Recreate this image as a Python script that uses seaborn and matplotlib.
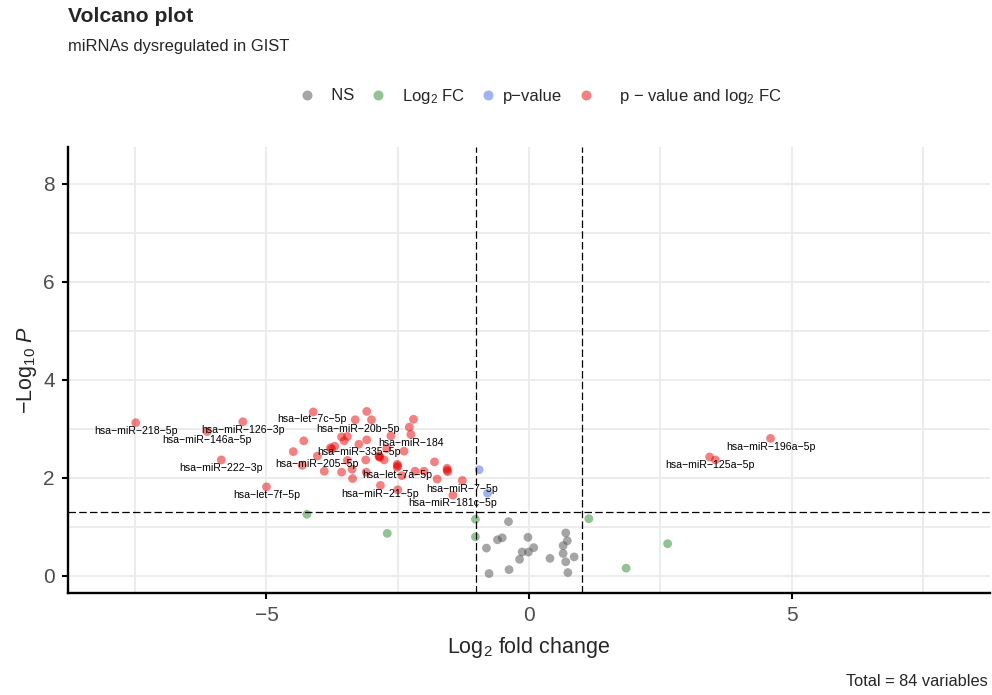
import numpy as np
import pandas as pd
import matplotlib
matplotlib.use("Agg")
import matplotlib.pyplot as plt
from matplotlib.lines import Line2D
import seaborn as sns

# Labelled miRNAs (log2 fold change, -log10 p)
mirna_labels = [
    "hsa-miR-218-5p", "hsa-miR-126-3p", "hsa-miR-146a-5p", "hsa-miR-222-3p",
    "hsa-let-7f-5p", "hsa-let-7c-5p", "hsa-miR-20b-5p", "hsa-miR-184",
    "hsa-miR-335-5p", "hsa-miR-205-5p", "hsa-let-7a-5p", "hsa-miR-21-5p",
    "hsa-miR-7-5p", "hsa-miR-181c-5p", "hsa-miR-196a-5p", "hsa-miR-125a-5p",
]
labelled_fc = [-7.49, -5.45, -6.13, -5.86, -5.00, -4.11, -3.31, -2.25,
               -3.24, -4.03, -2.51, -2.83, -1.27, -1.45, 4.60, 3.44]
labelled_p = [3.12, 3.14, 2.94, 2.36, 1.81, 3.34, 3.18, 2.88,
              2.68, 2.44, 2.21, 1.84, 1.94, 1.64, 2.80, 2.42]

# Remaining miRNAs
other_fc = [
    -3.09, -3.00, -2.20, -2.28, -2.63, -3.57, -3.46, -3.52, -3.09, -4.29,
    -3.78, -3.76, -2.71, -2.38, -4.49, -2.86, -2.84, -2.76, -3.11, -3.46,
    -4.32, -2.51, -1.80, -1.56, -1.55, -3.90, -3.57, -3.10, -3.37, -2.17,
    -2.00, -2.42, -3.36, -1.75, -2.50, 3.55, -3.70, -1.56, -2.85, -2.50,
    -0.95, -0.79,
    -1.02, -1.02, -2.70, 1.14, 1.85, 2.64, -4.23,
    -0.39, -0.81, -0.60, -0.51, -0.02, -0.13, -0.01, 0.09, -0.18, -0.76,
    -0.38, 0.40, 0.70, 0.73, 0.65, 0.65, 0.86, 0.70, 0.74,
]
other_p = [
    3.35, 3.18, 3.19, 3.03, 2.85, 2.83, 2.84, 2.75, 2.77, 2.75,
    2.61, 2.58, 2.59, 2.54, 2.53, 2.44, 2.41, 2.36, 2.36, 2.35,
    2.25, 2.27, 2.32, 2.19, 2.12, 2.13, 2.11, 2.11, 2.17, 2.13,
    2.13, 2.04, 1.98, 1.97, 1.75, 2.36, 2.64, 2.15, 2.43, 2.24,
    2.16, 1.68,
    1.15, 0.79, 0.86, 1.16, 0.15, 0.65, 1.25,
    1.10, 0.56, 0.73, 0.77, 0.78, 0.48, 0.48, 0.57, 0.33, 0.04,
    0.12, 0.35, 0.87, 0.71, 0.61, 0.45, 0.38, 0.28, 0.06,
]

fc_cutoff = 1.0
p_cutoff = 0.05

categories = ["NS", "Log2 FC", "p-value", "p-value and log2 FC"]
colours = ["#4D4D4D", "#228B22", "#4169E1", "#EE0000"]
legend_texts = ["  NS", r"  Log$_{2}$ FC", "p\u2212value",
                r"    p $-$ value and log$_{2}$ FC"]

df = pd.DataFrame({
    "log2FC": labelled_fc + other_fc,
    "nlogp": labelled_p + other_p,
})
sig_fc = df["log2FC"].abs() > fc_cutoff
sig_p = df["nlogp"] > -np.log10(p_cutoff)
df["category"] = np.select(
    [sig_fc & sig_p, sig_p, sig_fc], [categories[3], categories[2], categories[1]],
    default=categories[0])

sns.set_theme(style="ticks")
plt.rcParams["font.family"] = ["Liberation Sans", "DejaVu Sans"]
plt.rcParams["mathtext.fontset"] = "custom"
plt.rcParams["mathtext.rm"] = "Liberation Sans"
plt.rcParams["mathtext.it"] = "Liberation Sans:italic"
plt.rcParams["mathtext.bf"] = "Liberation Sans:bold"

W, H = 992, 695
fig = plt.figure(figsize=(W / 100, H / 100), dpi=100)
ax = fig.add_axes([68 / W, 1 - 593 / H, (990 - 68) / W, (593 - 147) / H])

ax.set_xlim(-8.78, 8.78)
ax.set_ylim(-0.357, 8.75)
ax.set_xticks([-5, 0, 5])
ax.set_yticks([0, 2, 4, 6, 8])
ax.set_xticks([-7.5, -2.5, 2.5, 7.5], minor=True)
ax.set_yticks([1, 3, 5, 7], minor=True)
ax.grid(which="both", color="#EBEBEB", linewidth=1.3)
ax.set_axisbelow(True)

sns.scatterplot(data=df, x="log2FC", y="nlogp", hue="category",
                hue_order=categories, palette=colours, alpha=0.5, s=40,
                edgecolor="none", linewidth=0, legend=False, ax=ax, zorder=3)

dash = (0, (6, 2.6))
ax.axvline(-fc_cutoff, color="black", lw=0.9, ls=dash, zorder=4)
ax.axvline(fc_cutoff, color="black", lw=0.9, ls=dash, zorder=4)
ax.axhline(-np.log10(p_cutoff), color="black", lw=0.9, ls=dash, zorder=4)

# text sits just below its point; two crowded labels get a small nudge
nudge = {"hsa-let-7c-5p": (-1.0, 0.6), "hsa-miR-20b-5p": (2.0, -0.9)}
for name, x, y in zip(mirna_labels, labelled_fc, labelled_p):
    dx, dy = nudge.get(name, (0.0, 0.0))
    ax.annotate(name.replace("-", "\u2212"), (x, y), xytext=(dx, -5.9 + dy),
                textcoords="offset points", ha="center", va="center",
                fontsize=7.6, color="black", zorder=5)

for side in ["top", "right"]:
    ax.spines[side].set_visible(False)
for side in ["left", "bottom"]:
    ax.spines[side].set_linewidth(1.7)
    ax.spines[side].set_color("black")

ax.tick_params(which="major", direction="out", length=4.5, width=1.5,
               color="black", labelsize=15, labelcolor="#4D4D4D", pad=5,
               bottom=True, left=True)
ax.tick_params(which="minor", length=0)

ax.set_xlabel(r"$\mathrm{Log}_{2}$ fold change", fontsize=15.5, labelpad=7)
ax.set_ylabel(r"$-\mathrm{Log}_{10}\ P$", fontsize=15.5, labelpad=3)

fig.text(68 / W, 1 - 17 / H, "Volcano plot", fontsize=15.2, weight="bold",
         va="center", ha="left")
fig.text(68 / W, 1 - 47 / H, "miRNAs dysregulated in GIST", fontsize=11.9,
         va="center", ha="left")
fig.text(988 / W, 1 - 682 / H, "Total = 84 variables", fontsize=11.8,
         va="center", ha="right")

handles = [Line2D([0], [0], marker="o", ls="", markersize=7.2,
                  markerfacecolor=c, markeredgecolor="none", alpha=0.5)
           for c in colours]
fig.legend(handles, legend_texts, loc="center",
           bbox_to_anchor=(540 / W, 1 - 96 / H), ncol=4, frameon=False,
           fontsize=12, handlelength=1.0, handletextpad=0.4,
           columnspacing=0.9)

fig.savefig("out.png", dpi=100)
